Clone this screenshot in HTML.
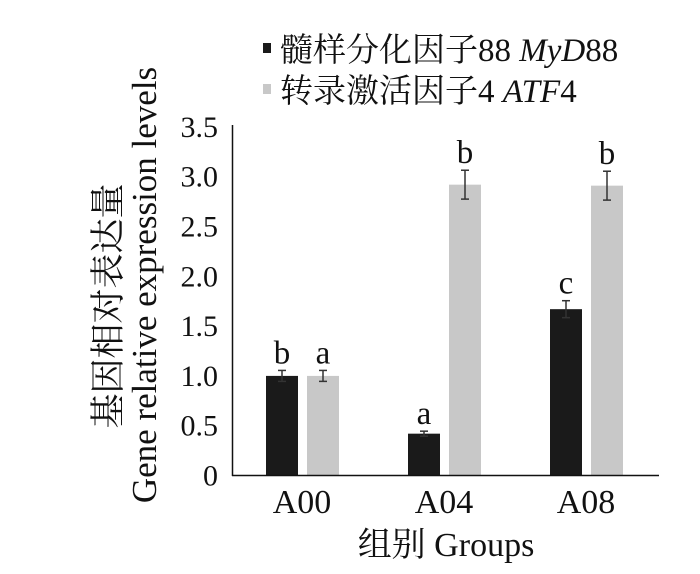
<!DOCTYPE html>
<html><head><meta charset="utf-8"><style>
body{margin:0;background:#fff;}
svg{display:block;}
text{font-family:"Liberation Serif","Noto Serif CJK SC",serif;fill:#111;}
</style></head><body>
<svg width="700" height="574" viewBox="0 0 700 574">
<g id="legend">
  <rect x="263" y="43" width="8" height="10" fill="#1a1a1a"/>
  <text x="280" y="61" font-size="33">髓样分化因子88 <tspan font-style="italic">MyD</tspan>88</text>
  <rect x="263" y="84" width="8" height="10" fill="#c8c8c8"/>
  <text x="280" y="102" font-size="33">转录激活因子4 <tspan font-style="italic">ATF</tspan>4</text>
</g>
<text transform="translate(120,306) rotate(-90)" text-anchor="middle" font-size="35">基因相对表达量</text>
<text transform="translate(156,285) rotate(-90)" text-anchor="middle" font-size="35">Gene relative expression levels</text>
<g id="yticks"></g>
<g id="bars"></g>
<line x1="232.5" y1="125" x2="232.5" y2="476" stroke="#111" stroke-width="1.5"/>
<line x1="232" y1="475.5" x2="659" y2="475.5" stroke="#111" stroke-width="1.5"/>
<g id="xlabels"></g>
<text x="446" y="556" text-anchor="middle" font-size="34">组别  Groups</text>
</svg>
<script>
const categories = ["A00","A04","A08"];
const myd88 = [1.0, 0.42, 1.67];
const myd88Err = [0.055, 0.025, 0.085];
const myd88Letters = ["b","a","c"];
const atf4 = [1.0, 2.92, 2.91];
const atf4Err = [0.055, 0.145, 0.145];
const atf4Letters = ["a","b","b"];
const yTicks = [0,0.5,1.0,1.5,2.0,2.5,3.0,3.5];
const yTickLabels = ["0","0.5","1.0","1.5","2.0","2.5","3.0","3.5"];

const NS="http://www.w3.org/2000/svg";
const y0=475.5, pxPerUnit=99.6;
function yScale(v){return y0 - v*pxPerUnit;}
function groupCenter(i){return 302 + i*142;}
function mk(tag,attrs,parent){const e=document.createElementNS(NS,tag);for(const k in attrs)e.setAttribute(k,attrs[k]);parent.appendChild(e);return e;}

const yt=document.getElementById('yticks');
yTicks.forEach((t,i)=>{
  const e=mk('text',{x:218,y:yScale(t)+10,'text-anchor':'end','font-size':30},yt);
  
  
  e.textContent=yTickLabels[i];
});

const bars=document.getElementById('bars');
const series=[{vals:myd88,err:myd88Err,lett:myd88Letters,color:"#1a1a1a",off:-36,name:"myd88"},
              {vals:atf4,err:atf4Err,lett:atf4Letters,color:"#c8c8c8",off:5,name:"atf4"}];
const bw=32;
categories.forEach((c,i)=>{
  series.forEach(s=>{
    const x=groupCenter(i)+s.off;
    const top=yScale(s.vals[i]);
    const r=mk('rect',{x:x,y:top,width:bw,height:y0-top,fill:s.color},bars);
    
    
    const cx=x+bw/2, e1=yScale(s.vals[i]+s.err[i]), e2=yScale(s.vals[i]-s.err[i]);
    const g=mk('g',{stroke:'#333','stroke-width':1.5},bars);
    
    
    mk('line',{x1:cx,y1:e1,x2:cx,y2:e2},g);
    mk('line',{x1:cx-4,y1:e1,x2:cx+4,y2:e1},g);
    mk('line',{x1:cx-4,y1:e2,x2:cx+4,y2:e2},g);
    const t=mk('text',{x:cx,y:e1-7,'text-anchor':'middle','font-size':33},bars);
    
    
    t.textContent=s.lett[i];
  });
  const xl=mk('text',{x:groupCenter(i),y:513,'text-anchor':'middle','font-size':34},document.getElementById('xlabels'));
  
  
  xl.textContent=c;
});
</script>
</body></html>
